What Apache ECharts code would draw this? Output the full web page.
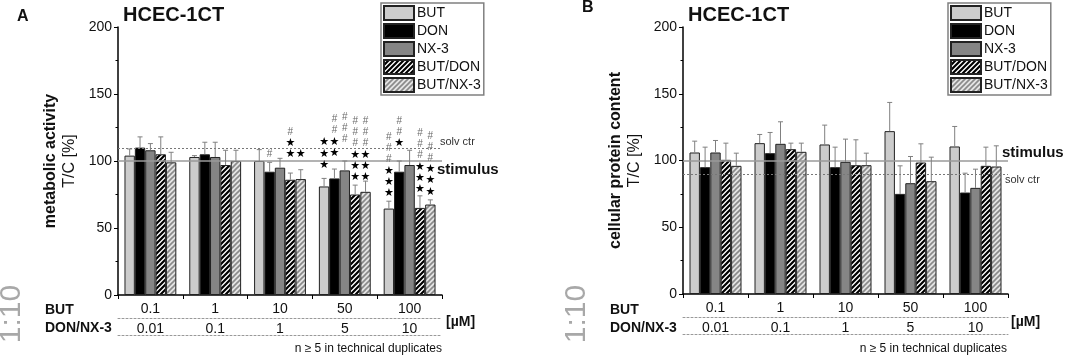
<!DOCTYPE html>
<html>
<head>
<meta charset="utf-8">
<script src="https://cdn.jsdelivr.net/npm/echarts@6/dist/echarts.min.js"></script>
<style>
  html, body { margin: 0; padding: 0; background: #fff; }
  #chart { width: 1074px; height: 358px; }
</style>
</head>
<body>
<div id="chart"></div>
<script>
// concentrations
const butConc = ['0.1', '1', '10', '50', '100'];
const donConc = ['0.01', '0.1', '1', '5', '10'];
const names = ['BUT', 'DON', 'NX-3', 'BUT/DON', 'BUT/NX-3'];

// A: metabolic activity, mean and mean+SD
const metBUT = [104, 103, 100, 81, 64.5];
const metDON = [110, 105, 92, 87, 92];
const metNX3 = [108, 103, 95, 93, 97];
const metBD = [105, 97, 86, 75, 65];
const metBN = [99, 100, 86.5, 77, 67.5];
const metBUTsd = [109, 104, 108.5, 87, 70];
const metDONsd = [118, 114, 99, 94, 100];
const metNX3sd = [113, 114, 102, 100, 108];
const metBDsd = [118, 108, 91, 82, 74];
const metBNsd = [106.5, 108, 93.5, 85, 71];

// B: cellular protein content
const proBUT = [106, 113, 112, 122, 110.5];
const proDON = [95, 105.5, 95, 75, 76];
const proNX3 = [106, 112.5, 99, 83, 79.5];
const proBD = [100.5, 108.5, 96.5, 98.5, 96];
const proBN = [96, 106.5, 96.5, 84.5, 95.5];
const proBUTsd = [114.5, 119.5, 126.5, 143.5, 125.5];
const proDONsd = [110, 121, 110, 96, 90.5];
const proNX3sd = [115, 129, 116, 103, 93.5];
const proBDsd = [113, 113, 115.5, 112.5, 110];
const proBNsd = [105.5, 113, 105.5, 102.5, 111];

// reference lines
const metStim = 100, metSolv = 109.5;
const proStim = 100, proSolv = 90;

// significance marks in A: [group, bar, bottom value, symbols top->bottom]
const metMarks = [
  [2, 1, 105, '#'],
  [2, 3, 105, '#★★'],
  [2, 4, 105, '★'],
  [3, 0, 97, '★★★'],
  [3, 1, 106, '##★★'],
  [3, 2, 116, '###'],
  [3, 3, 88, '###★★★'],
  [3, 4, 88, '###★★★'],
  [4, 0, 76, '###★★★'],
  [4, 1, 113, '##★'],
  [4, 3, 79, '###★★★'],
  [4, 4, 77, '###★★★']
];

const FONT = 'Liberation Sans, Arial, sans-serif';

function hatch(fg, bg, w) {
  const c = document.createElement('canvas');
  c.width = c.height = 5;
  const ctx = c.getContext('2d');
  ctx.fillStyle = bg;
  ctx.fillRect(0, 0, 5, 5);
  ctx.strokeStyle = fg;
  ctx.lineWidth = w;
  ctx.beginPath();
  for (let o = -5; o <= 5; o += 5) {
    ctx.moveTo(o - 1, 6);
    ctx.lineTo(o + 6, -1);
  }
  ctx.stroke();
  return { image: c, repeat: 'repeat' };
}

const fills = ['#cccccc', '#000000', '#858585', hatch('#000', '#fff', 2.2), hatch('#8a8a8a', '#e4e4e4', 1.6)];

const chart = echarts.init(document.getElementById('chart'));

function barSeries(vals, i, xi, yi) {
  return {
    name: names[i], type: 'bar', xAxisIndex: xi, yAxisIndex: yi,
    data: vals, barGap: 0, barCategoryGap: '20%',
    itemStyle: { color: fills[i], borderColor: '#222', borderWidth: 1 },
    emphasis: { disabled: true }, silent: true
  };
}

function errSeries(means, sds, xi, yi) {
  const data = [];
  means.forEach((m, bi) => m.forEach((v, g) => data.push([g, v, sds[bi][g], bi])));
  return {
    type: 'custom', xAxisIndex: xi, yAxisIndex: yi, silent: true, z: 5,
    data: data,
    renderItem: (params, api) => {
      const band = api.size([1, 0])[0];
      const bw = band * 0.16;
      const bi = api.value(3);
      const p0 = api.coord([api.value(0), api.value(1)]);
      const p1 = api.coord([api.value(0), api.value(2)]);
      const x = p0[0] + (bi - 2) * bw;
      const st = { stroke: '#808080', lineWidth: 1 };
      return {
        type: 'group', children: [
          { type: 'line', shape: { x1: x, y1: p0[1], x2: x, y2: p1[1] }, style: st },
          { type: 'line', shape: { x1: x - 2.5, y1: p1[1], x2: x + 2.5, y2: p1[1] }, style: st }
        ]
      };
    }
  };
}

function refLines(stim, solv, xi, yi) {
  return {
    type: 'line', xAxisIndex: xi, yAxisIndex: yi, data: [], silent: true,
    markLine: {
      symbol: 'none', silent: true, label: { show: false },
      data: [
        { yAxis: stim, lineStyle: { color: '#9a9a9a', width: 1.5, type: 'solid' } },
        { yAxis: solv, lineStyle: { color: '#777', width: 1, type: [2, 2] } }
      ]
    }
  };
}

const marksSeries = {
  type: 'custom', xAxisIndex: 0, yAxisIndex: 0, silent: true, z: 6,
  data: metMarks.map(m => [m[0], m[2], m[1]]),
  renderItem: (params, api) => {
    const band = api.size([1, 0])[0];
    const p = api.coord([api.value(0), api.value(1)]);
    const x = p[0] + (api.value(2) - 2) * band * 0.16;
    const chars = Array.from(metMarks[params.dataIndex][3]).reverse();
    return {
      type: 'group',
      children: chars.map((ch, k) => ({
        type: 'text',
        style: {
          text: ch, x: x, y: p[1] - k * 11.2, align: 'center', verticalAlign: 'middle',
          fill: ch === '#' ? '#6a6a6a' : '#000',
          font: ch === '#' ? '10px ' + FONT : '11px DejaVu Sans'
        }
      }))
    };
  }
};

function xAxes(grid) {
  return [
    {
      type: 'category', gridIndex: grid, data: butConc,
      axisLine: { lineStyle: { color: '#000', width: 1.5 } },
      axisTick: { show: true, length: 4, lineStyle: { color: '#000' } },
      axisLabel: { color: '#111', fontSize: 14, fontFamily: FONT, margin: 7 }
    },
    {
      type: 'category', gridIndex: grid, data: donConc, position: 'bottom', offset: 23,
      axisLine: { lineStyle: { color: '#999', width: 1, type: [2, 2] } },
      axisTick: { show: false },
      axisLabel: { color: '#111', fontSize: 14, fontFamily: FONT, margin: 4 }
    },
    {
      type: 'category', gridIndex: grid, data: donConc, position: 'bottom', offset: 40,
      axisLine: { lineStyle: { color: '#999', width: 1, type: [2, 2] } },
      axisTick: { show: false }, axisLabel: { show: false }
    }
  ];
}

function yAxis(grid, title) {
  return {
    type: 'value', gridIndex: grid, min: 0, max: 200, interval: 50,
    name: '{b|' + title + '}\n{n|T/C [%]}', nameLocation: 'middle', nameRotate: 90, nameGap: 39,
    nameTextStyle: {
      rich: {
        b: { fontSize: 16, fontWeight: 'bold', fontFamily: FONT, color: '#111', lineHeight: 19 },
        n: { fontSize: 16, fontFamily: FONT, color: '#111', lineHeight: 19 }
      }
    },
    axisLine: { show: true, lineStyle: { color: '#000', width: 1.5 } },
    axisTick: { show: true, length: 4, lineStyle: { color: '#000' } },
    minorTick: { show: true, splitNumber: 2, length: 2.5, lineStyle: { color: '#000' } },
    splitLine: { show: false },
    axisLabel: { color: '#111', fontSize: 14, fontFamily: FONT, margin: 6 }
  };
}

function legend(left) {
  return {
    data: names, left: left, top: 3, orient: 'vertical',
    itemWidth: 30, itemHeight: 14, itemGap: 2, selectedMode: false,
    icon: 'rect', backgroundColor: '#fff',
    borderColor: '#808080', borderWidth: 1.5, padding: [2, 3, 2, 2],
    textStyle: { fontSize: 14, lineHeight: 15, fontFamily: FONT, color: '#111', padding: [0, 0, 0, -2] }
  };
}

function txt(x, y, text, size, opt) {
  return {
    type: 'text', x: x, y: y, silent: true,
    style: Object.assign({
      text: text, fill: '#111', font: (opt && opt.bold ? 'bold ' : '') + size + 'px ' + FONT,
      verticalAlign: 'middle'
    }, opt && opt.style ? opt.style : {})
  };
}

function panelText(dx, letter, letterY, stimY, solvY) {
  return [
    txt(17 + dx, letterY, letter, 16, { bold: true }),
    txt(123 + dx, 15, 'HCEC-1CT', 20, { bold: true }),
    txt(45 + dx, 310, 'BUT', 14, { bold: true }),
    txt(45 + dx, 328, 'DON/NX-3', 14, { bold: true }),
    txt(446 + dx, 322, '[µM]', 14, { bold: true }),
    txt(442 + dx, 349, 'n ≥ 5 in technical duplicates', 12, { style: { align: 'right' } }),
    txt(437 + dx, stimY, 'stimulus', 15, { bold: true }),
    txt(440 + dx, solvY, 'solv ctr', 11, { style: { fill: '#333' } }),
    {
      type: 'text', x: 12 + dx, y: 314, rotation: Math.PI / 2, silent: true,
      style: { text: '1:10', fill: '#a8a8a8', font: '30px ' + FONT, align: 'center', verticalAlign: 'middle' }
    }
  ];
}

const metMeans = [metBUT, metDON, metNX3, metBD, metBN];
const metSds = [metBUTsd, metDONsd, metNX3sd, metBDsd, metBNsd];
const proMeans = [proBUT, proDON, proNX3, proBD, proBN];
const proSds = [proBUTsd, proDONsd, proNX3sd, proBDsd, proBNsd];

const series = [];
metMeans.forEach((v, i) => series.push(barSeries(v, i, 0, 0)));
proMeans.forEach((v, i) => series.push(barSeries(v, i, 3, 1)));
series.push(refLines(metStim, metSolv, 0, 0));
series.push(refLines(proStim, proSolv, 3, 1));
series.push(errSeries(metMeans, metSds, 0, 0));
series.push(errSeries(proMeans, proSds, 3, 1));
series.push(marksSeries);

chart.setOption({
  animation: false,
  textStyle: { fontFamily: FONT },
  grid: [
    { left: 118, right: 632, top: 27, bottom: 63, outerBoundsMode: 'none' },
    { left: 683, right: 66, top: 27, bottom: 64, outerBoundsMode: 'none' }
  ],
  legend: [legend(381), legend(948)],
  xAxis: xAxes(0).concat(xAxes(1)),
  yAxis: [yAxis(0, 'metabolic activity'), yAxis(1, 'cellular protein content')],
  series: series,
  graphic: panelText(0, 'A', 17, 170, 142).concat(panelText(565, 'B', 8, 153, 180))
});
</script>
</body>
</html>
